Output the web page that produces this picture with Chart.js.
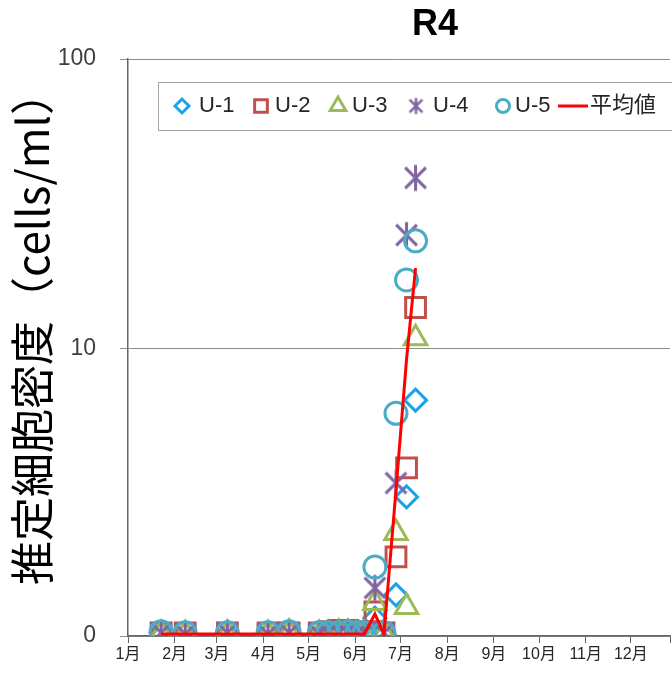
<!DOCTYPE html>
<html>
<head>
<meta charset="utf-8">
<script src="https://cdn.jsdelivr.net/npm/chart.js@4.4.1/dist/chart.umd.min.js"></script>
<style>
  html, body { margin: 0; padding: 0; background: #fff; overflow: hidden; }
  #wrap { width: 672px; height: 674px; }
</style>
</head>
<body>
<div id="wrap"><canvas id="r4Chart" width="672" height="674"></canvas></div>
<script>
// sampling days (day of year) and estimated densities (log axis, bottom = 0)
const sampleDays = [22, 38, 66, 93, 107, 127, 133, 140, 146, 152, 157, 164, 170, 178, 185, 191];
const u1 = [1.05, 1.04, 1.04, 1.04, 1.05, 1.04, 1.05, 1.04, 1.05, 1.05, 1.04, 1.18, 1.04, 1.42, 3.09, 6.66];
const u2 = [1.05, 1.05, 1.05, 1.05, 1.05, 1.05, 1.06, 1.07, 1.07, 1.06, 1.05, 1.24, 1.05, 1.92, 3.89, 13.9];
const u3 = [1.04, 1.04, 1.04, 1.04, 1.05, 1.04, 1.04, 1.05, 1.05, 1.04, 1.04, 1.33, 1.04, 2.32, 1.29, 10.9];
const u4 = [1.05, 1.04, 1.05, 1.04, 1.05, 1.04, 1.05, 1.05, 1.05, 1.05, 1.05, 1.50, 1.05, 3.45, 24.7, 38.9];
const u5 = [1.06, 1.05, 1.05, 1.05, 1.06, 1.05, 1.05, 1.05, 1.06, 1.05, 1.05, 1.77, 1.05, 6.00, 17.3, 23.6];
const meanValues = [1.04, 1.04, 1.04, 1.04, 1.04, 1.04, 1.04, 1.04, 1.04, 1.04, 1.04, 1.22, 1.04, 3.26, 9.2, 19.0];

const monthStarts = [0, 31, 59, 90, 120, 151, 181, 212, 243, 273, 304, 334];
const monthLabels = ['1月', '2月', '3月', '4月', '5月', '6月', '7月', '8月', '9月', '10月', '11月', '12月'];
const yMin = 1.024;
const yTicks = [yMin, 10, 100];
const yTickLabels = ['0', '10', '100'];

const toPoints = arr => arr.map((v, i) => ({ x: sampleDays[i], y: v }));

// Excel style asterisk marker (vertical + X)
function asterisk(half, lw, color) {
    const c = document.createElement('canvas');
    const s = Math.ceil(half * 2 + lw + 2);
    c.width = s; c.height = s;
    const g = c.getContext('2d');
    const m = s / 2;
    const d = half * 0.8;
    g.strokeStyle = color;
    g.lineWidth = lw;
    g.beginPath();
    g.moveTo(m, m - half); g.lineTo(m, m + half);
    g.moveTo(m - d, m - d); g.lineTo(m + d, m + d);
    g.moveTo(m + d, m - d); g.lineTo(m - d, m + d);
    g.stroke();
    return c;
}

const starBig = asterisk(13, 3, '#8064A2');
const starSmall = asterisk(8, 2.5, '#8064A2');

function series(label, data, color, style, radius, order) {
    return {
        label: label,
        data: toPoints(data),
        showLine: false,
        pointStyle: style,
        pointRadius: radius,
        pointHoverRadius: radius,
        pointBorderWidth: 3,
        pointBorderColor: color,
        pointBackgroundColor: 'rgba(0,0,0,0)',
        borderColor: color,
        order: order
    };
}

const legendItems = [
    { text: 'U-1', color: '#1AA3E8', style: 'rectRot', r: 7, mx: 182, tx: 199 },
    { text: 'U-2', color: '#C0504D', style: 'rect', r: 9, mx: 261, tx: 275 },
    { text: 'U-3', color: '#9BBB59', style: 'triangle', r: 9, mx: 338, tx: 352 },
    { text: 'U-4', color: '#8064A2', style: starSmall, r: 8, mx: 416, tx: 433 },
    { text: 'U-5', color: '#4BACC6', style: 'circle', r: 6.5, mx: 503, tx: 515 }
];

// legend drawn inside the plot, like the Excel original
const boxLegend = {
    id: 'boxLegend',
    afterDraw(chart) {
        const ctx = chart.ctx;
        const cy = 106;
        ctx.save();
        ctx.strokeStyle = '#A6A6A6';
        ctx.lineWidth = 1;
        ctx.fillStyle = '#fff';
        ctx.fillRect(158, 82, 560, 48);
        ctx.strokeRect(158.5, 82.5, 560, 48);
        ctx.font = '22px "Liberation Sans", "Noto Sans CJK JP", sans-serif';
        ctx.textBaseline = 'middle';
        legendItems.forEach(it => {
            ctx.strokeStyle = it.color;
            ctx.fillStyle = 'rgba(0,0,0,0)';
            ctx.lineWidth = 3;
            Chart.helpers.drawPoint(ctx, { pointStyle: it.style, radius: it.r, borderWidth: 3, rotation: 0 }, it.mx, cy);
            ctx.fillStyle = '#262626';
            ctx.fillText(it.text, it.tx, cy);
        });
        ctx.strokeStyle = '#FF0000';
        ctx.lineWidth = 3;
        ctx.beginPath();
        ctx.moveTo(558, cy);
        ctx.lineTo(588, cy);
        ctx.stroke();
        ctx.fillStyle = '#262626';
        ctx.fillText('平均値', 590, cy);
        ctx.restore();
    }
};

// chart title and y axis title at the spots used in the original
const titles = {
    id: 'titles',
    afterDraw(chart) {
        const ctx = chart.ctx;
        ctx.save();
        ctx.font = 'bold 36px "Liberation Sans", Arial, sans-serif';
        ctx.fillStyle = '#000';
        ctx.textAlign = 'center';
        ctx.textBaseline = 'middle';
        ctx.fillText('R4', 435, 25);
        ctx.translate(32, 328);
        ctx.rotate(-Math.PI / 2);
        ctx.font = '44px "Noto Sans CJK JP", "Liberation Sans", sans-serif';
        ctx.fillText('推定細胞密度（cells/ml）', 0, 0);
        ctx.restore();
    }
};

const ctx = document.getElementById('r4Chart').getContext('2d');
new Chart(ctx, {
    type: 'scatter',
    data: {
        datasets: [
            {
                label: '平均値',
                data: toPoints(meanValues),
                showLine: true,
                borderColor: '#FF0000',
                borderWidth: 3,
                pointRadius: 0,
                tension: 0,
                order: 0
            },
            series('U-1', u1, '#1AA3E8', 'rectRot', 11, 5),
            series('U-2', u2, '#C0504D', 'rect', 14, 4),
            series('U-3', u3, '#9BBB59', 'triangle', 13, 3),
            series('U-4', u4, '#8064A2', starBig, 13, 2),
            series('U-5', u5, '#4BACC6', 'circle', 11, 1)
        ]
    },
    options: {
        responsive: false,
        animation: false,
        events: [],
        layout: {
            autoPadding: false,
            padding: { top: 59, right: 0, left: 0, bottom: 0 }
        },
        plugins: {
            legend: { display: false },
            tooltip: { enabled: false },
            title: { display: false }
        },
        scales: {
            x: {
                type: 'linear',
                min: 0,
                max: 360,
                afterBuildTicks: axis => {
                    axis.ticks = monthStarts.concat([360]).map(v => ({ value: v }));
                },
                afterFit: axis => { axis.height = 38; },
                grid: {
                    drawOnChartArea: false,
                    drawTicks: true,
                    tickLength: 7,
                    color: '#666'
                },
                border: { color: '#666', width: 1.5 },
                ticks: {
                    autoSkip: false,
                    maxRotation: 0,
                    padding: 2,
                    color: '#262626',
                    font: { family: '"Liberation Sans", "Noto Sans CJK JP"', size: 16 },
                    callback: (v, i) => monthLabels[i] || ''
                }
            },
            y: {
                type: 'logarithmic',
                min: yMin,
                max: 100,
                afterBuildTicks: axis => {
                    axis.ticks = yTicks.map(v => ({ value: v }));
                },
                afterFit: axis => { axis.width = 128; },
                grid: {
                    color: '#8C8C8C',
                    lineWidth: 1,
                    tickLength: 8
                },
                border: { color: '#666', width: 1.5 },
                ticks: {
                    padding: 24,
                    color: '#404040',
                    font: { family: '"Liberation Sans", Arial', size: 23 },
                    callback: (v, i) => yTickLabels[i]
                }
            }
        }
    },
    plugins: [boxLegend, titles]
});
</script>
</body>
</html>
